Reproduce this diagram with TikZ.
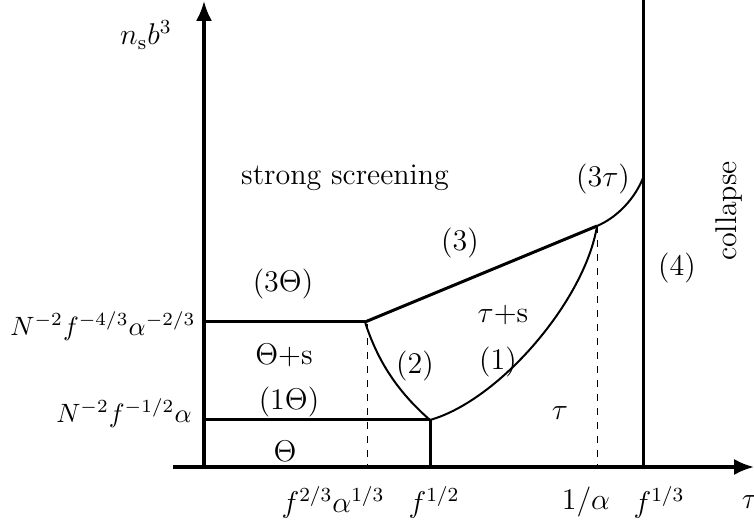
\documentclass[tikz,border=0pt]{standalone}
\usetikzlibrary{arrows.meta}
\begin{document}
\begin{tikzpicture}[x=0.4pt, y=-0.4pt, every node/.style={font=\large},
  axis/.style={line width=1.3pt, -{Latex[length=8pt,width=6.5pt]}},
  border/.style={line width=1.2pt},
  curve/.style={line width=0.8pt},
  guide/.style={line width=0.4pt, dash pattern=on 2.8pt off 2.8pt}]
\useasboundingbox (0,0) rectangle (754,531);
% points of the phase boundaries
\coordinate (o) at (204,467);
\coordinate (ytop) at (204,1);
\coordinate (xleft) at (173,467);
\coordinate (xright) at (754,467);
\coordinate (ua) at (204,322);
\coordinate (ub) at (365,322);
\coordinate (la) at (204,420);
\coordinate (lb) at (430,420);
\coordinate (tri) at (597,226);
\coordinate (col) at (643,178);
\coordinate (coltop) at (643,0);
% axes
\draw[axis] (xleft) -- (xright);
\draw[axis] (o) -- (ytop);
% boundaries
\draw[border] (ua) -- (ub);
\draw[border] (la) -- (lb);
\draw[border] (lb) -- (lb |- o);
\draw[border] (ub) -- (tri);
\draw[border] (coltop) -- (coltop |- o);
\draw[curve] (ub) .. controls (378,362) and (398,392) .. (lb);
\draw[curve] (lb) .. controls (500,400) and (585,300) .. (tri);
\draw[curve] (tri) .. controls (618,217) and (635,198) .. (col);
\draw[guide] (367,324) -- (367,467);
\draw[guide] (tri) -- (tri |- o);
% labels on the axes
\node (ylab) at (146,35) {$n_{\mathrm{s}}b^3$};
\node (tlab) at (750,502) {$\tau$};
\node[anchor=east, font=\normalsize, scale=1.06] (hi) at (205,326) {$N^{-2}f^{-4/3}\alpha^{-2/3}$};
\node[anchor=east, font=\normalsize, scale=1.06] (lo) at (201,413) {$N^{-2}f^{-1/2}\alpha$};
\node (t1) at (333,502) {$f^{2/3}\alpha^{1/3}$};
\node (t2) at (434,502) {$f^{1/2}$};
\node (t3) at (586,502) {$1/\alpha$};
\node (t4) at (659,502) {$f^{1/3}$};
% regions
\node (ss) at (345,178) {strong screening};
\node (r3T) at (283,284) {(3$\Theta$)};
\node (ThS) at (284,355) {$\Theta$+s};
\node (r1T) at (289,402) {(1$\Theta$)};
\node (Th) at (285,451) {$\Theta$};
\node (r3) at (460,243) {(3)};
\node (taS) at (503,315) {$\tau$+s};
\node (r2) at (415,366) {(2)};
\node (r1) at (498,362) {(1)};
\node (ta) at (560,413) {$\tau$};
\node (r3t) at (603,179) {(3$\tau$)};
\node (r4) at (677,268) {(4)};
\node[rotate=90] (cl) at (729,211) {collapse};
\end{tikzpicture}
\end{document}
